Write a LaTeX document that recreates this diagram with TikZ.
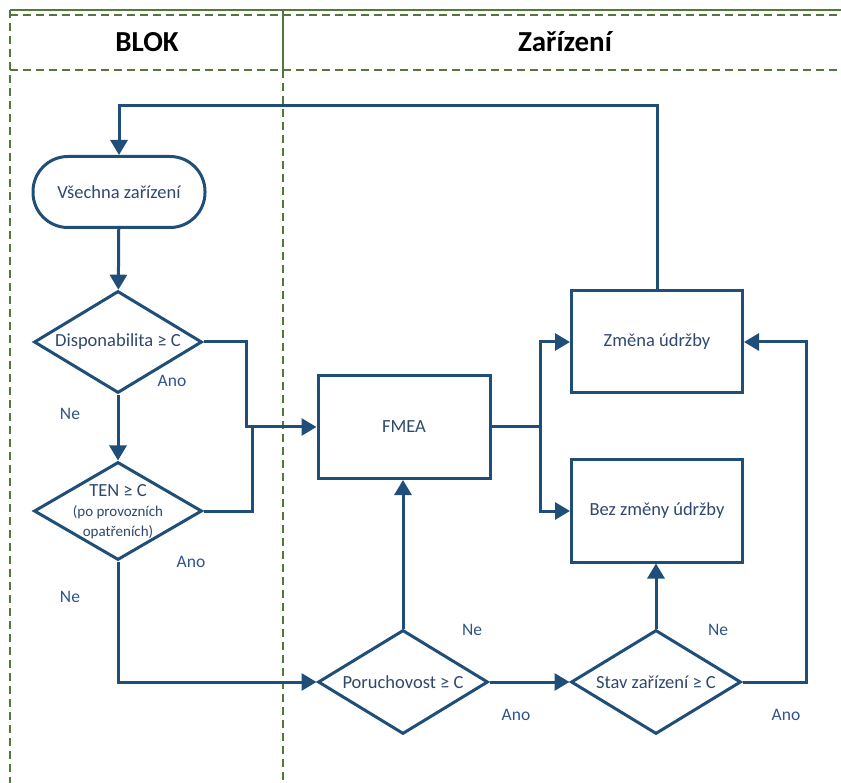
\documentclass[tikz,border=0pt]{standalone}
\usepackage{fontspec}
\setmainfont{Carlito}
\usetikzlibrary{arrows.meta,shapes.geometric}

\definecolor{flowblue}{RGB}{31,78,121}
\definecolor{txtblue}{RGB}{48,72,110}
\definecolor{lblblue}{RGB}{46,84,140}
\definecolor{lanegreen}{RGB}{84,120,60}

\tikzset{
  lane/.style={draw=lanegreen, line width=1.2pt},
  lanedash/.style={draw=lanegreen, line width=1.2pt, dash pattern=on 8pt off 5pt},
  box/.style={draw=flowblue, line width=3pt, fill=white, minimum width=172pt,
    minimum height=103pt, inner sep=0pt, text=txtblue, font=\fontsize{18.5}{22}\selectfont},
  terminal/.style={draw=flowblue, line width=3pt, fill=white, rounded corners=35pt,
    minimum width=172pt, minimum height=71pt, inner sep=0pt, text=txtblue,
    font=\fontsize{18.5}{22}\selectfont},
  decision/.style={draw=flowblue, line width=3pt, fill=white, shape=diamond,
    shape aspect=1.65, minimum width=168pt, minimum height=102pt, inner sep=0pt,
    text=txtblue, font=\fontsize{18.5}{22}\selectfont},
  conn/.style={draw=flowblue, line width=3pt},
  flow/.style={conn, -{Triangle[length=15pt,width=17pt]}},
  answer/.style={text=lblblue, font=\fontsize{17.5}{20}\selectfont},
  header/.style={font=\fontsize{29}{32}\selectfont\bfseries, text=black},
}

\begin{document}
\begin{tikzpicture}[x=1pt,y=-1pt]
\useasboundingbox (0,0) rectangle (841,783);

% swimlanes
\draw[lane] (10,10) -- (841,10);
\draw[lanedash] (10,15) -- (841,15);
\draw[lanedash] (10,70) -- (841,70);
\draw[lanedash] (10,10) -- (10,783);
\draw[lane] (283,10) -- (283,70);
\draw[lanedash] (283,70) -- (283,783);
\node[header] (hblok) at (147,42) {BLOK};
\node[header] (hzar) at (565,42) {Zařízení};

% nodes
\node[terminal] (start) at (119,192) {Všechna zařízení};
\node[decision] (disp) at (118,342) {Disponabilita ≥ C};
\node[decision, minimum height=98pt] (ten) at (118,511) {};
\node[align=center, text=txtblue, inner sep=0pt,
      font=\fontsize{15}{20}\selectfont] (tentext) at (118,512)
  {{\fontsize{18.5}{20}\selectfont TEN ≥ C}\\
   (po provozních\\
   opatřeních)};
\node[box] (fmea) at (404,427) {FMEA};
\node[box, minimum width=171pt, minimum height=102pt] (zmena) at (657,342) {Změna údržby};
\node[box, minimum width=171pt, minimum height=102pt] (bez) at (657,511) {Bez změny údržby};
\node[decision, minimum width=170pt, minimum height=104pt] (por) at (403,682) {Poruchovost ≥ C};
\node[decision, minimum width=170pt, minimum height=104pt] (stav) at (656,682) {Stav zařízení ≥ C};

% junction points
\coordinate (j1) at (246,427);
\coordinate (j2) at (252,427);
\coordinate (fx) at (540,427);
\coordinate (rr) at (806,342);
\coordinate (tl) at (119,106);

% connectors
\draw[flow] (start) -- (disp);
\draw[flow] (disp) -- (ten);
\draw[flow] (disp.east) -| (j1) -- (fmea.west);
\draw[conn] (ten.east) -| (j2);
\draw[flow] (ten.south) |- (por.west);
\draw[flow] (por.north) -- (por.north |- fmea.south);
\draw[flow] (por.east) -- (stav.west);
\draw[flow] (stav.north) -- (stav.north |- bez.south);
\draw[flow] (stav.east) -| (rr) -- (zmena.east);
\draw[conn] (fmea.east) -- (fx);
\draw[flow] (fx) |- (zmena.west);
\draw[flow] (fx) |- (bez.west);
\draw[flow] (zmena.north) |- (tl) -- (start.north);

% answer labels
\node[answer] (a1) at (172,381) {Ano};
\node[answer] (n1) at (70,414) {Ne};
\node[answer] (a2) at (191,562) {Ano};
\node[answer] (n2) at (70,597) {Ne};
\node[answer] (n3) at (472,630) {Ne};
\node[answer] (a3) at (516,715) {Ano};
\node[answer] (n4) at (718,630) {Ne};
\node[answer] (a4) at (786,715) {Ano};
\end{tikzpicture}
\end{document}
